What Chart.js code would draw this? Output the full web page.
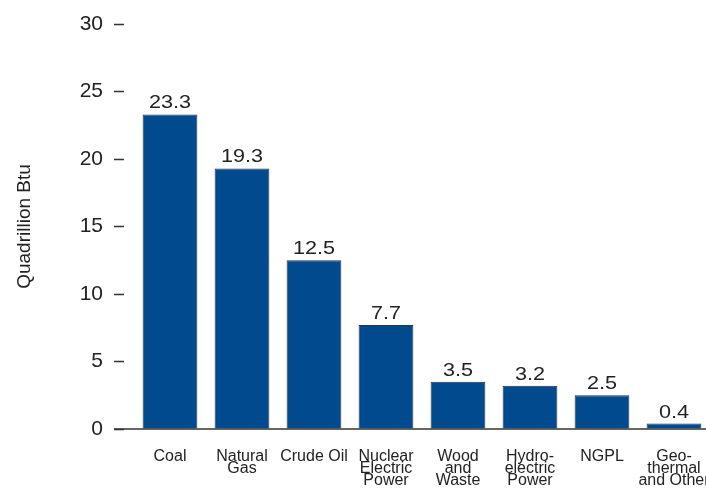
<!DOCTYPE html>
<html>
<head>
<meta charset="utf-8">
<title>Energy Production by Source</title>
<script src="https://cdn.jsdelivr.net/npm/chart.js@4"></script>
<style>
    html, body { margin: 0; padding: 0; background: #fff; overflow: hidden; }
    .chart-box { width: 712px; height: 488px; }
</style>
</head>
<body>
<div class="chart-box"><canvas id="production-chart"></canvas></div>
<script>
// Production by source, quadrillion Btu
const categories = [
    'Coal',
    ['Natural', 'Gas'],
    'Crude Oil',
    ['Nuclear', 'Electric', 'Power'],
    ['Wood', 'and', 'Waste'],
    ['Hydro-', 'electric', 'Power'],
    'NGPL',
    ['Geo-', 'thermal', 'and Other']
];
const production = [23.3, 19.3, 12.5, 7.7, 3.5, 3.2, 2.5, 0.4];
const yTicks = [0, 5, 10, 15, 20, 25, 30];

const textColor = '#222';
const lineColor = '#333';
const fontFamily = "'Liberation Sans', Arial, Helvetica, sans-serif";

// Zero line, starting under the y tick marks
const baselinePlugin = {
    id: 'baseline',
    afterDatasetsDraw(chart) {
        const { ctx, chartArea, scales } = chart;
        const y = scales.y.getPixelForValue(0);
        ctx.save();
        ctx.strokeStyle = lineColor;
        ctx.lineWidth = 1.5;
        ctx.beginPath();
        ctx.moveTo(scales.y.right - 20, y);
        ctx.lineTo(chartArea.right, y);
        ctx.stroke();
        ctx.restore();
    }
};

// Value printed above each bar (set a little wide)
const valueLabelPlugin = {
    id: 'valueLabels',
    afterDatasetsDraw(chart) {
        const { ctx } = chart;
        const meta = chart.getDatasetMeta(0);
        meta.data.forEach((bar, i) => {
            ctx.save();
            ctx.translate(bar.x, bar.y - 6);
            ctx.scale(1.2, 1);
            ctx.fillStyle = textColor;
            ctx.font = `18px ${fontFamily}`;
            ctx.textAlign = 'center';
            ctx.textBaseline = 'alphabetic';
            ctx.fillText(production[i].toFixed(1), 0, 0);
            ctx.restore();
        });
    }
};

new Chart(document.getElementById('production-chart'), {
    type: 'bar',
    data: {
        labels: categories,
        datasets: [{
            data: production,
            backgroundColor: '#004a8d',
            borderColor: '#27324a',
            borderWidth: 1,
            barPercentage: 0.76,
            categoryPercentage: 1
        }]
    },
    options: {
        responsive: true,
        maintainAspectRatio: false,
        animation: false,
        layout: {
            padding: { top: 24, right: 2, bottom: 0, left: 0 }
        },
        plugins: {
            legend: { display: false },
            tooltip: { enabled: false }
        },
        scales: {
            x: {
                afterFit(scale) {
                    scale.height = 59;
                    scale.paddingLeft = 0;
                    scale.paddingRight = 0;
                },
                grid: { display: false, drawTicks: false },
                border: { display: false },
                ticks: {
                    color: textColor,
                    padding: 22,
                    maxRotation: 0,
                    autoSkip: false,
                    font: { family: fontFamily, size: 16, lineHeight: '12px' }
                }
            },
            y: {
                min: yTicks[0],
                max: yTicks[yTicks.length - 1],
                afterFit(scale) {
                    scale.width = 134;
                },
                afterBuildTicks(scale) {
                    scale.ticks = yTicks.map(v => ({ value: v }));
                },
                grid: {
                    drawOnChartArea: false,
                    drawTicks: true,
                    tickLength: 20,
                    tickColor: lineColor,
                    tickWidth: 1.5,
                    // only the outer half of each tick is drawn
                    tickBorderDash: [10, 10],
                    tickBorderDashOffset: 0
                },
                border: { display: false },
                ticks: {
                    color: textColor,
                    padding: 11,
                    font: { family: fontFamily, size: 21 }
                },
                title: {
                    display: true,
                    text: 'Quadrillion Btu',
                    color: textColor,
                    padding: { top: 13, bottom: 0 },
                    font: { family: fontFamily, size: 19 }
                }
            }
        }
    },
    plugins: [baselinePlugin, valueLabelPlugin]
});
</script>
</body>
</html>
